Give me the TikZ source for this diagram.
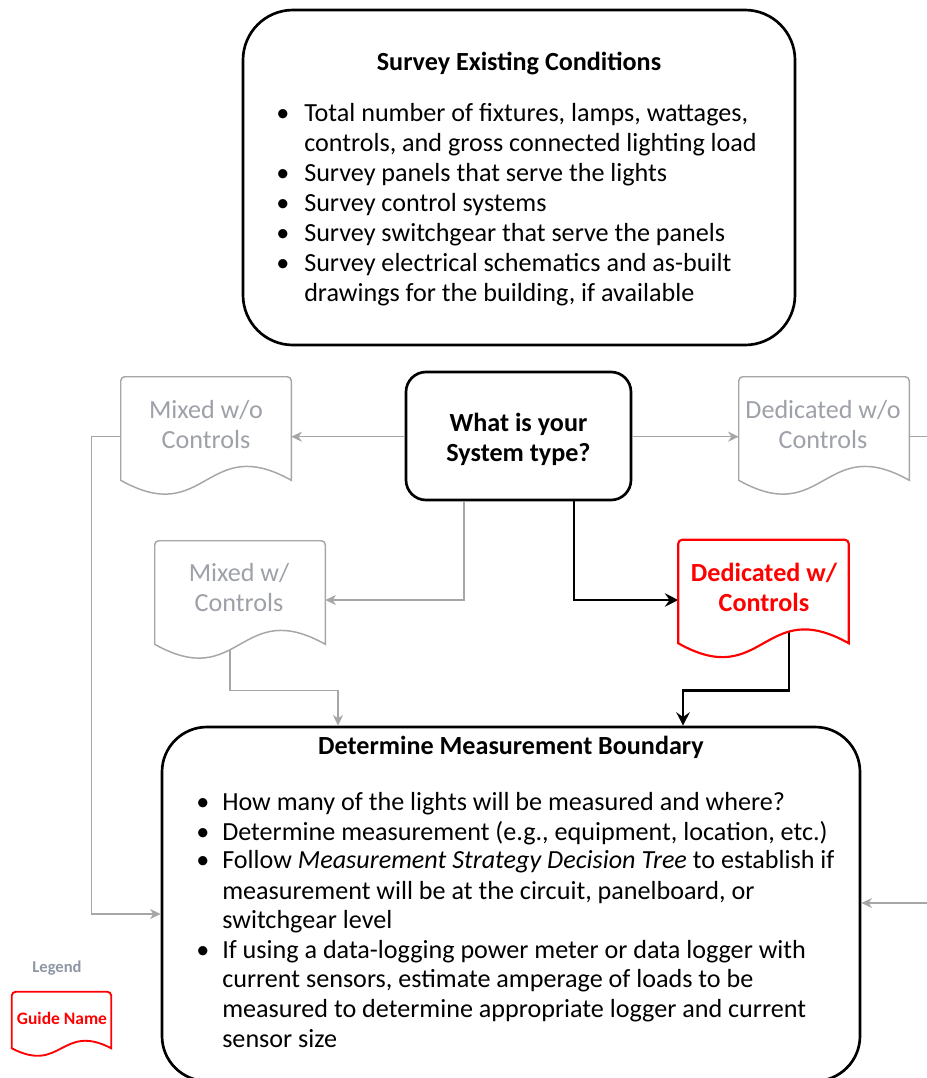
\documentclass[tikz,border=0pt]{standalone}
\usepackage{fontspec}
\setmainfont{Carlito}
\usetikzlibrary{arrows.meta,calc}
\definecolor{lgray}{HTML}{A6A6A6}
\definecolor{tgray}{HTML}{9EA1A8}
\definecolor{legc}{HTML}{8E96A4}
\definecolor{myred}{HTML}{FF0000}
\newcommand\docoutline[3]{%
  \draw[#2] (#1.south west) [rounded corners=3pt] -- (#1.north west) -- (#1.north east) [sharp corners] -- (#1.south east)
    .. controls ($(#1.south)+(0,-#3)$) and ($(#1.south)+(0,#3)$) .. (#1.south west) -- cycle;}
\newcommand\bul[3]{\node[txt,anchor=base] (#1) at (#2,#3) {\textbullet};}
\newcommand\tline[4]{\node[txt,anchor=base west] (#1) at (#2,#3) {#4};}
\begin{document}
\begin{tikzpicture}[x=0.75pt,y=-0.75pt,
  box/.style={draw=black, line width=2pt, inner sep=0pt},
  txt/.style={font=\fontsize{19.6}{22.5}\selectfont, inner sep=0pt},
  btxt/.style={font=\fontsize{19.6}{22.5}\selectfont\bfseries, inner sep=0pt},
  gtxt/.style={font=\fontsize{19.6}{22.5}\selectfont, text=tgray, inner sep=0pt},
  rtxt/.style={font=\fontsize{19.6}{22.5}\selectfont\bfseries, text=myred, inner sep=0pt},
  docbox/.style={minimum width=127.5pt, minimum height=77.25pt, inner sep=0pt, draw=none},
  gdoc/.style={draw=lgray, line width=1.1pt, fill=white},
  rdoc/.style={draw=myred, line width=1.6pt, fill=white},
  gline/.style={draw=lgray, line width=1.1pt},
  garrow/.style={draw=lgray, line width=1.1pt, -{Stealth[length=8pt,width=7.5pt,inset=2.5pt]}},
  barrow/.style={draw=black, line width=2pt, -{Stealth[length=10pt,width=10pt,inset=3.5pt]}}
]
\useasboundingbox (0,0) rectangle (926,1078);

% main boxes
\node[box, rounded corners=37.5pt, minimum width=414pt, minimum height=251.25pt] (top) at (519,177.5) {};
\node[box, rounded corners=15pt, minimum width=168.75pt, minimum height=96pt] (sys) at (518.5,436) {};
\node[box, rounded corners=33.75pt, minimum width=523.5pt, minimum height=265.5pt] (bot) at (511,904) {};

% document nodes (outlines drawn later)
\node[docbox] (mwo) at (206,428.5) {};
\node[docbox] (dwo) at (824,428.5) {};
\node[docbox] (mw) at (240,592.5) {};
\node[docbox] (dw) at (763.5,591.5) {};
\node[docbox, minimum width=74.25pt, minimum height=42pt] (leg) at (61.5,1020) {};

\coordinate (edgeA) at (932,436.7);
\coordinate (edgeB) at (932,903);

% connectors
\draw[garrow] (sys.west |- 0,436.7) -- (mwo.east |- 0,436.7);
\draw[garrow] (sys.east |- 0,436.7) -- (dwo.west |- 0,436.7);
\draw[gline] ($(dwo.east)+(0,8.2)$) -- (edgeA);
\draw[garrow] (edgeB) -- (bot.east |- edgeB);
\draw[garrow] ($(sys.south)+(-54.5,0)$) |- ($(mw.east)+(0,7.5)$);
\draw[barrow] ($(sys.south)+(55.5,0)$) |- ($(dw.west)+(0,8.5)$);
\draw[barrow] ($(dw.south)+(25.5,-20)$) |- ($(bot.north)+(172,-35)$) -- ($(bot.north)+(172,0)$);
\draw[garrow] ($(mw.south)+(-10,-20)$) |- ($(bot.north)+(-173,-35)$) -- ($(bot.north)+(-173,0)$);
\draw[garrow] ($(mwo.west)+(0,8.2)$) -| ($(bot.west)+(-69,10)$) -- ($(bot.west)+(0,10)$);

% document outlines
\docoutline{mwo}{gdoc}{48}
\docoutline{dwo}{gdoc}{48}
\docoutline{mw}{gdoc}{48}
\docoutline{dw}{rdoc}{48}
\docoutline{leg}{draw=myred, line width=1.4pt, fill=white}{26}

% top box text
\node[btxt, anchor=base] (ttl1) at (519,70) {Survey Existing Conditions};
\bul{tb1}{283}{121}
\tline{tl1}{304}{121}{Total number of fixtures, lamps, wattages,}
\tline{tl2}{304}{151}{controls, and gross connected lighting load}
\bul{tb3}{283}{181}
\tline{tl3}{304}{181}{Survey panels that serve the lights}
\bul{tb4}{283}{211}
\tline{tl4}{304}{211}{Survey control systems}
\bul{tb5}{283}{241}
\tline{tl5}{304}{241}{Survey switchgear that serve the panels}
\bul{tb6}{283}{271}
\tline{tl6}{304}{271}{Survey electrical schematics and as-built}
\tline{tl7}{304}{301}{drawings for the building, if available}

% decision text
\node[btxt, anchor=base] (sq1) at (518.5,431) {What is your};
\node[btxt, anchor=base] (sq2) at (518.5,461) {System type?};

% document texts
\node[gtxt, anchor=base] (mwo1) at (206,418) {Mixed w/o};
\node[gtxt, anchor=base] (mwo2) at (206,448) {Controls};
\node[gtxt, anchor=base] (dwo1) at (823,418) {Dedicated w/o};
\node[gtxt, anchor=base] (dwo2) at (823,448) {Controls};
\node[gtxt, anchor=base] (mw1) at (239,581) {Mixed w/};
\node[gtxt, anchor=base] (mw2) at (239,611) {Controls};
\node[rtxt, anchor=base] (dw1) at (764,581) {Dedicated w/};
\node[rtxt, anchor=base] (dw2) at (764,611) {Controls};

% bottom box text
\node[btxt, anchor=base] (ttl2) at (511,754) {Determine Measurement Boundary};
\bul{bb1}{203}{810}
\tline{bl1}{222}{810}{How many of the lights will be measured and where?}
\bul{bb2}{203}{840}
\tline{bl2}{222}{840}{Determine measurement (e.g., equipment, location, etc.)}
\bul{bb3}{203}{868}
\tline{bl3}{222}{868}{Follow \textit{Measurement Strategy Decision Tree} to establish if}
\tline{bl4}{222}{899}{measurement will be at the circuit, panelboard, or}
\tline{bl5}{222}{928}{switchgear level}
\bul{bb6}{203}{958}
\tline{bl6}{222}{958}{If using a data-logging power meter or data logger with}
\tline{bl7}{222}{987}{current sensors, estimate amperage of loads to be}
\tline{bl8}{222}{1017}{measured to determine appropriate logger and current}
\tline{bl9}{222}{1047}{sensor size}

% legend
\node[font=\fontsize{12.4}{14}\selectfont\bfseries, text=legc, inner sep=0pt, anchor=base] (legt) at (57,972) {Legend};
\node[font=\fontsize{13.1}{15}\selectfont\bfseries, text=myred, inner sep=0pt, anchor=base] (legn) at (62,1024) {Guide Name};
\end{tikzpicture}
\end{document}
